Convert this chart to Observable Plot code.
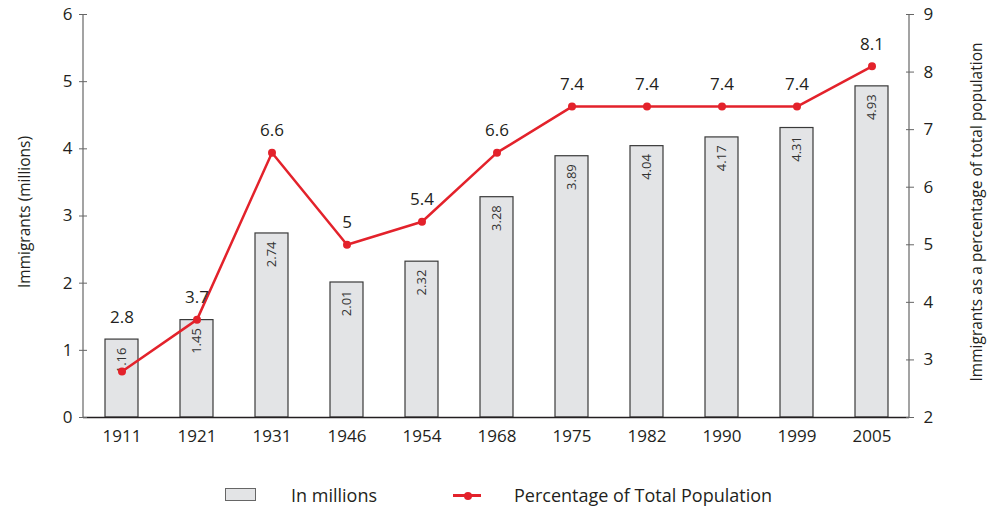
<!DOCTYPE html>
<html><head><meta charset="utf-8">
<script src="https://cdn.jsdelivr.net/npm/d3@7"></script>
<script src="https://cdn.jsdelivr.net/npm/@observablehq/plot@0.6"></script>
<style>
body{margin:0;background:#fff;font-family:"Open Sans",sans-serif;color:#231f20;}
#wrap{position:relative;width:1000px;height:510px;}
#legend{position:absolute;left:0;top:465px;width:1000px;height:45px;font-size:18px;line-height:24px;}
.sw{position:absolute;left:225px;top:23px;width:29px;height:11px;background:#e3e4e6;border:1px solid #666;}
.t1{position:absolute;left:291px;top:18px;}
.ln{position:absolute;left:453px;top:29px;width:28px;height:2.5px;background:#e3222b;}
.dot{position:absolute;left:464px;top:26.5px;width:8px;height:8px;border-radius:50%;background:#e3222b;}
.t2{position:absolute;left:514px;top:18px;}
</style></head>
<body><div id="wrap"><div id="chart"></div>
<div id="legend"><div class="sw"></div><div class="t1">In millions</div><div class="ln"></div><div class="dot"></div><div class="t2">Percentage of Total Population</div></div>
</div>
<script>
const years = ["1911","1921","1931","1946","1954","1968","1975","1982","1990","1999","2005"];
const millions = [1.16,1.45,2.74,2.01,2.32,3.28,3.89,4.04,4.17,4.31,4.93];
const percent = [2.8,3.7,6.6,5,5.4,6.6,7.4,7.4,7.4,7.4,8.1];
const leftTicks = [0,1,2,3,4,5,6];
const rightTicks = [2,3,4,5,6,7,8,9];
const leftTitle = "Immigrants (millions)";
const rightTitle = "Immigrants as a percentage of total population";

const RED = "#e3222b";
const toY = p => (p - 2) * 6 / 7;
const data = years.map((y, i) => ({
  year: y, m: millions[i], p: percent[i], py: toY(percent[i]),
  ly: Math.max(toY(percent[i]), millions[i])
}));

const axisLines = (index, scales, values, dims) => {
  const {width, height, marginLeft, marginRight, marginTop, marginBottom} = dims;
  const g = d3.create("svg:g");
  g.append("line").attr("x1", marginLeft).attr("x2", marginLeft)
    .attr("y1", marginTop).attr("y2", height - marginBottom).attr("stroke", "#666").attr("stroke-width", 1.2);
  g.append("line").attr("x1", width - marginRight).attr("x2", width - marginRight)
    .attr("y1", marginTop).attr("y2", height - marginBottom).attr("stroke", "#666").attr("stroke-width", 1.2);
  return g.node();
};

const chart = Plot.plot({
  width: 1000, height: 465,
  marginLeft: 83, marginRight: 91, marginTop: 14, marginBottom: 48,
  style: {fontFamily: "'Open Sans', sans-serif", color: "#231f20", background: "#fff"},
  x: {domain: years, paddingInner: 0.56, paddingOuter: 0.28},
  y: {domain: [0, 6]},
  marks: [
    Plot.barY(data, {x: "year", y: "m", fill: "#e3e4e6", stroke: "#3a3a3a", strokeWidth: 1.2}),
    Plot.text(data, {x: "year", y: "m", text: d => String(d.m), rotate: -90, textAnchor: "end", dy: 8, fontSize: 13, fill: "#333"}),
    Plot.ruleY([0], {stroke: "#231f20", strokeWidth: 1.5}),
    axisLines,
    Plot.axisX({tickSize: 0, tickPadding: 12, fontSize: 17, label: null}),
    Plot.axisY({anchor: "left", ticks: leftTicks, tickFormat: d => String(d), tickSize: 8, dx: 4, tickPadding: 7, fontSize: 17, label: null, stroke: "#666"}),
    Plot.axisY({anchor: "right", ticks: rightTicks.map(toY), tickFormat: v => String(Math.round(v * 7 / 6 + 2)), tickSize: 8, dx: -4, tickPadding: 10, fontSize: 17, label: null, stroke: "#666"}),
    Plot.line(data, {x: "year", y: "py", stroke: RED, strokeWidth: 2.5}),
    Plot.dot(data, {x: "year", y: "py", fill: RED, r: 4}),
    Plot.text(data, {x: "year", y: "ly", text: d => String(d.p), dy: -22, fontSize: 17, fill: "#231f20"}),
    Plot.text([leftTitle], {frameAnchor: "left", textAnchor: "middle", rotate: -90, dx: -58, dy: -4, fontSize: 15.5, fill: "#231f20"}),
    Plot.text([rightTitle], {frameAnchor: "right", textAnchor: "middle", rotate: -90, dx: 68, dy: -4, fontSize: 15.5, fill: "#231f20"})
  ]
});
document.getElementById("chart").appendChild(chart);
</script>
</body></html>
